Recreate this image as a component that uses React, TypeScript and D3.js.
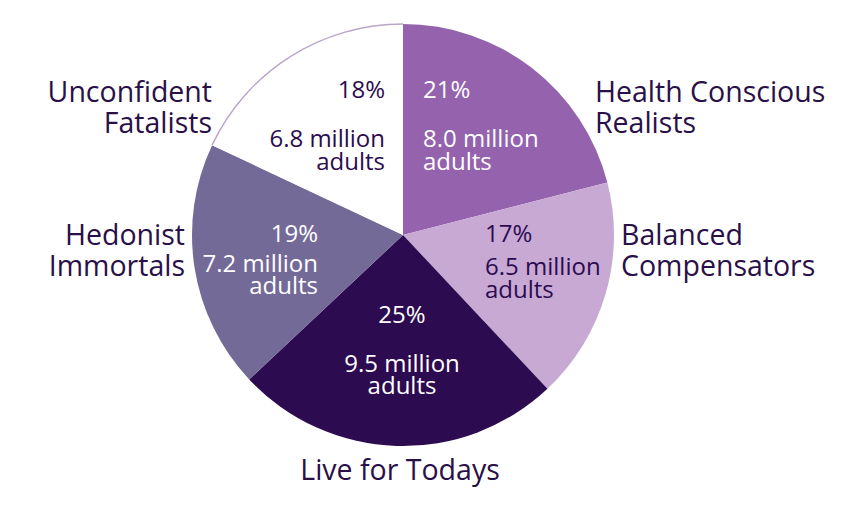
import React, { useRef, useEffect } from 'react';
import * as d3 from 'd3';

// segments, clockwise from 12 o'clock
const segments = ['Health Conscious Realists', 'Balanced Compensators', 'Live for Todays', 'Hedonist Immortals', 'Unconfident Fatalists'];
const shares = [21, 17, 25, 19, 18];
const adultsMillions = ['8.0', '6.5', '9.5', '7.2', '6.8'];
const nameLines = [['Health Conscious', 'Realists'], ['Balanced', 'Compensators'], ['Live for Todays'], ['Hedonist', 'Immortals'], ['Unconfident', 'Fatalists']];

const fills = ['#9562ae', '#c7a9d4', '#2c0b50', '#746a98', '#ffffff'];
const innerText = ['#ffffff', '#2c0b50', '#ffffff', '#ffffff', '#2c0b50'];
const dark = '#2a1048';

// label layout relative to pie centre (x, baseline y of first line, anchor)
const innerLayout = [
  { x: 20, y: -137, anchor: 'start', gaps: [49, 23] },
  { x: 82, y: 7, anchor: 'start', gaps: [33, 23] },
  { x: -1, y: 88, anchor: 'middle', gaps: [49, 22] },
  { x: -85, y: 7, anchor: 'end', gaps: [30, 22] },
  { x: -18, y: -137, anchor: 'end', gaps: [49, 23] },
];
const outerLayout = [
  { x: 192, y: -133, anchor: 'start' },
  { x: 218, y: 10, anchor: 'start' },
  { x: -3, y: 245, anchor: 'middle' },
  { x: -218, y: 10, anchor: 'end' },
  { x: -191, y: -133, anchor: 'end' },
];

export default function App() {
  const svgRef = useRef<SVGSVGElement>(null);

  useEffect(() => {
    document.body.style.margin = '0';
    const width = 850;
    const height = 513;
    const cx = 403;
    const cy = 235;
    const radius = 211;

    const svg = d3.select(svgRef.current);
    svg.selectAll('*').remove();
    svg.append('rect').attr('width', width).attr('height', height).attr('fill', '#ffffff');

    const g = svg.append('g').attr('transform', `translate(${cx},${cy})`);

    const pie = d3.pie<number>().sort(null).value(d => d);
    const arcs = pie(shares);
    const arc = d3.arc<d3.PieArcDatum<number>>().innerRadius(0).outerRadius(radius);

    g.selectAll('path.slice')
      .data(arcs)
      .enter()
      .append('path')
      .attr('class', 'slice')
      .attr('d', arc)
      .attr('fill', (d, i) => fills[i]);

    // thin outline on the white slice's rim
    const last = arcs[arcs.length - 1];
    const rim = d3.arc()({ innerRadius: radius - 0.7, outerRadius: radius + 0.7, startAngle: last.startAngle, endAngle: last.endAngle } as any);
    g.append('path').attr('d', rim).attr('fill', '#b9a5ca');

    const font = "'Open Sans', sans-serif";

    // inner labels
    arcs.forEach((d, i) => {
      const L = innerLayout[i];
      const t = g.append('text')
        .attr('x', L.x)
        .attr('y', L.y)
        .attr('text-anchor', L.anchor)
        .attr('fill', innerText[i])
        .style('font-family', font)
        .style('font-size', '24px');
      const lines = [`${shares[i]}%`, `${adultsMillions[i]} million`, 'adults'];
      lines.forEach((s, j) => {
        t.append('tspan')
          .attr('x', L.x)
          .attr('dy', j === 0 ? 0 : L.gaps[j - 1])
          .text(s);
      });
    });

    // outer segment names
    nameLines.forEach((lines, i) => {
      const L = outerLayout[i];
      const t = g.append('text')
        .attr('x', L.x)
        .attr('y', L.y)
        .attr('text-anchor', L.anchor)
        .attr('fill', dark)
        .style('font-family', font)
        .style('font-size', '28.5px');
      lines.forEach((s, j) => {
        t.append('tspan').attr('x', L.x).attr('dy', j === 0 ? 0 : 31).text(s);
      });
    });
  }, []);

  return (
    <svg ref={svgRef} width={850} height={513} viewBox="0 0 850 513" style={{ display: 'block' }} />
  );
}
